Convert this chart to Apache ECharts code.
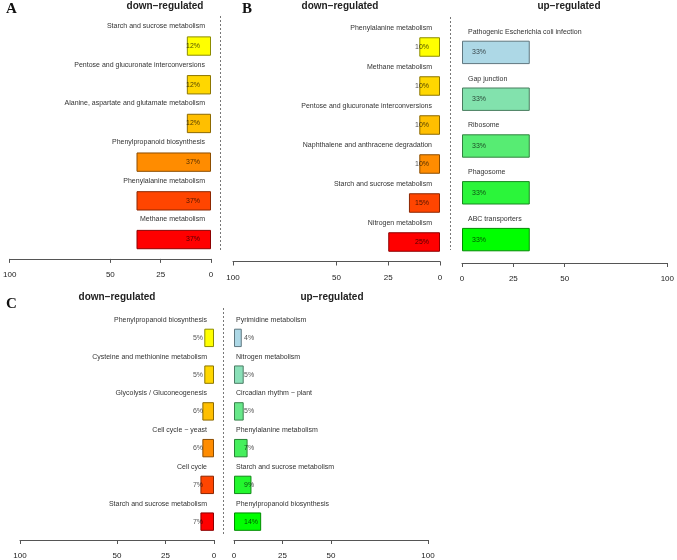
<!DOCTYPE html>
<html>
<head>
<meta charset="utf-8">
<script src="https://cdn.jsdelivr.net/npm/echarts@6/dist/echarts.min.js"></script>
<style>html,body{margin:0;padding:0;background:#fff;}#c{width:677px;height:560px;}</style>
</head>
<body>
<div id="c"></div>
<script>
// ---- data ----
var aDownCats = ["Starch and sucrose metabolism","Pentose and glucuronate interconversions","Alanine, aspartate and glutamate metabolism","Phenylpropanoid biosynthesis","Phenylalanine metabolism","Methane metabolism"];
var aDownVals = [12,12,12,37,37,37];
var bDownCats = ["Phenylalanine metabolism","Methane metabolism","Pentose and glucuronate interconversions","Naphthalene and anthracene degradation","Starch and sucrose metabolism","Nitrogen metabolism"];
var bDownVals = [10,10,10,10,15,25];
var bUpCats = ["Pathogenic Escherichia coli infection","Gap junction","Ribosome","Phagosome","ABC transporters"];
var bUpVals = [33,33,33,33,33];
var cDownCats = ["Phenylpropanoid biosynthesis","Cysteine and methionine metabolism","Glycolysis / Gluconeogenesis","Cell cycle \u2212 yeast","Cell cycle","Starch and sucrose metabolism"];
var cDownVals = [5,5,6,6,7,7];
var cUpCats = ["Pyrimidine metabolism","Nitrogen metabolism","Circadian rhythm \u2212 plant","Phenylalanine metabolism","Starch and sucrose metabolism","Phenylpropanoid biosynthesis"];
var cUpVals = [4,5,5,7,9,14];
var tickValues = [0,25,50,100];

// ---- palettes ----
var downColors = ["#FFFF00","#FFD700","#FFBF00","#FF8C00","#FF4500","#FF0000"];
var upColors5 = ["#ADD8E6","#82E2AD","#57EC73","#2BF53A","#00FF00"];
var upColors6 = ["#ADD8E6","#8AE0B8","#68E88A","#45EF5C","#23F72E","#00FF00"];

function darken(hex, f) {
  var r = parseInt(hex.substr(1,2),16), g = parseInt(hex.substr(3,2),16), b = parseInt(hex.substr(5,2),16);
  return 'rgb(' + Math.round(r*f) + ',' + Math.round(g*f) + ',' + Math.round(b*f) + ')';
}

var FONT = 'Liberation Sans, Arial, sans-serif';

var panels = [
  {cats: aDownCats, vals: aDownVals, colors: downColors, down: true,  grid: {left: 7,   top: 26.7,  width: 204, height: 232.2}, margin: 6, shift: 40},
  {cats: bDownCats, vals: bDownVals, colors: downColors, down: true,  grid: {left: 233, top: 27.5,  width: 207, height: 234},   margin: 8, shift: 38},
  {cats: bUpCats,   vals: bUpVals,   colors: upColors5,  down: false, grid: {left: 462, top: 29,    width: 207, height: 234},   margin: 6, shift: 41},
  {cats: cDownCats, vals: cDownVals, colors: downColors, down: true,  grid: {left: 20,  top: 319.5, width: 194, height: 222.6}, margin: 7, shift: 36},
  {cats: cUpCats,   vals: cUpVals,   colors: upColors6,  down: false, grid: {left: 234, top: 319.5, width: 194, height: 222.6}, margin: 2, shift: 36}
];

var grids = [], xAxes = [], yAxes = [], series = [];
panels.forEach(function (p, i) {
  grids.push(Object.assign({containLabel: false}, p.grid));
  xAxes.push({
    type: 'value', gridIndex: i, min: 0, max: 100, inverse: p.down,
    axisLine: {show: true, lineStyle: {color: '#555', width: 1}},
    axisTick: {show: true, customValues: tickValues, length: 4, lineStyle: {color: '#555'}},
    axisLabel: {show: true, customValues: tickValues, fontSize: 8, color: '#222', fontFamily: FONT, margin: 12},
    splitLine: {show: false}
  });
  yAxes.push({
    type: 'category', gridIndex: i, data: p.cats, inverse: true,
    position: p.down ? 'right' : 'left',
    axisLine: {show: false}, axisTick: {show: false},
    axisLabel: {show: true, inside: true, interval: 0, margin: p.margin, fontSize: 7, lineHeight: 9,
                color: '#333', fontFamily: FONT,
                formatter: function (v) { return v + '\n{s| }'; },
                rich: {s: {fontSize: 1, lineHeight: p.shift}}}
  });
  series.push({
    type: 'bar', xAxisIndex: i, yAxisIndex: i, barWidth: '50%',
    data: p.vals.map(function (v, k) {
      return {value: v, itemStyle: {color: p.colors[k], borderColor: darken(p.colors[k], 0.55), borderWidth: 1}};
    }),
    label: {show: true, position: p.down ? 'insideRight' : 'insideLeft', distance: p.down ? 11 : 10,
            formatter: '{c}%', fontSize: 7, color: 'rgba(0,0,0,0.7)', fontFamily: FONT},
    animation: false
  });
});

function titleText(x, y, t) {
  return {type: 'text', x: x, y: y, style: {text: t, fontSize: 10, fontWeight: 'bold', fill: '#222',
          fontFamily: FONT, align: 'center', verticalAlign: 'middle'}};
}
function letter(x, y, t) {
  return {type: 'text', x: x, y: y, style: {text: t, fontSize: 15, fontWeight: 'bold', fill: '#111',
          fontFamily: 'Liberation Serif, Times New Roman, serif', align: 'left', verticalAlign: 'middle'}};
}
function dotted(x, y1, y2) {
  return {type: 'line', shape: {x1: x, y1: y1, x2: x, y2: y2}, style: {stroke: '#777', lineWidth: 1, lineDash: [2, 2]}};
}

var option = {
  backgroundColor: '#fff',
  animation: false,
  grid: grids, xAxis: xAxes, yAxis: yAxes, series: series,
  graphic: [
    letter(6, 9, 'A'), letter(242, 9, 'B'), letter(6, 304, 'C'),
    titleText(165, 6, 'down\u2212regulated'),
    titleText(340, 6, 'down\u2212regulated'),
    titleText(569, 6, 'up\u2212regulated'),
    titleText(117, 297, 'down\u2212regulated'),
    titleText(332, 297, 'up\u2212regulated'),
    dotted(220.5, 16, 250), dotted(450.5, 17, 250), dotted(223.5, 308, 534)
  ]
};

var chart = echarts.init(document.getElementById('c'), null, {renderer: 'canvas'});
chart.setOption(option);
</script>
</body>
</html>
